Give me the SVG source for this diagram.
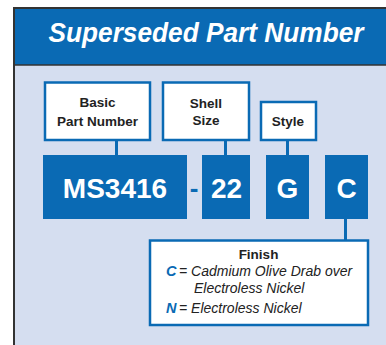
<svg xmlns="http://www.w3.org/2000/svg" width="386" height="345" viewBox="0 0 386 345">
<style>
.lbl{fill:#fff;stroke:#0a6ab4;stroke-width:2.5}
.blk{fill:#0a6ab4}
.t{font-family:"Liberation Sans",Arial,sans-serif;font-weight:bold;font-size:13.5px;fill:#222;text-anchor:middle}
.big{font-family:"Liberation Sans",Arial,sans-serif;font-weight:bold;font-size:28px;fill:#fff;text-anchor:middle}
.it{font-family:"Liberation Sans",Arial,sans-serif;font-style:italic;font-size:14px;fill:#222}
.key{font-family:"Liberation Sans",Arial,sans-serif;font-style:italic;font-weight:bold;font-size:14.5px;fill:#0a6ab4}
.con{stroke:#0a6ab4;stroke-width:3;fill:none}
</style>
<rect x="0" y="0" width="386" height="345" fill="#fff"/>
<rect x="14" y="8" width="380" height="345" fill="#d5def0" stroke="#333" stroke-width="2"/>
<rect x="15" y="9" width="371" height="56" fill="#0a6ab4"/>
<line x1="14" y1="65" x2="386" y2="65" stroke="#333" stroke-width="1.5"/>
<text x="206" y="42" font-family="Liberation Sans,Arial,sans-serif" font-weight="bold" font-style="italic" font-size="27" fill="#fff" text-anchor="middle" textLength="315" lengthAdjust="spacingAndGlyphs">Superseded Part Number</text>
<g id="connectors">
<line class="con" x1="116.5" y1="140" x2="116.5" y2="156"/>
<line class="con" x1="225.5" y1="140" x2="225.5" y2="156"/>
<line class="con" x1="287.5" y1="140" x2="287.5" y2="156"/>
<line class="con" x1="345.5" y1="218" x2="345.5" y2="241"/>
</g>
<g id="basic">
<rect class="lbl" x="45" y="82.5" width="105" height="57.5"/>
<text class="t" x="97.5" y="107">Basic</text>
<text class="t" x="97.5" y="126">Part Number</text>
</g>
<g id="shell">
<rect class="lbl" x="163" y="82.5" width="86" height="57.5"/>
<text class="t" x="206" y="108">Shell</text>
<text class="t" x="206" y="125">Size</text>
</g>
<g id="style">
<rect class="lbl" x="261" y="102" width="55" height="38"/>
<text class="t" x="288" y="126">Style</text>
</g>
<g id="ms3416">
<rect class="blk" x="43" y="155" width="144" height="64"/>
<text class="big" x="115" y="198">MS3416</text>
</g>
<text x="194" y="197" font-family="Liberation Sans,Arial,sans-serif" font-weight="bold" font-size="26" fill="#0a6ab4" text-anchor="middle">-</text>
<g id="n22">
<rect class="blk" x="202" y="155" width="48" height="64"/>
<text class="big" x="226.5" y="198">22</text>
</g>
<g id="g">
<rect class="blk" x="266" y="155" width="43" height="64"/>
<text class="big" x="287.5" y="198">G</text>
</g>
<g id="c">
<rect class="blk" x="325" y="155" width="43" height="64"/>
<text class="big" x="346.5" y="198">C</text>
</g>
<g id="finish">
<rect class="lbl" x="150" y="240.5" width="218" height="84.5"/>
<text class="t" x="258.5" y="259">Finish</text>
<text class="key" x="166" y="276">C</text>
<text class="it" x="179" y="276">= Cadmium Olive Drab over</text>
<text class="it" x="194" y="293">Electroless Nickel</text>
<text class="key" x="166" y="313">N</text>
<text class="it" x="179" y="313">= Electroless Nickel</text>
</g>
</svg>
